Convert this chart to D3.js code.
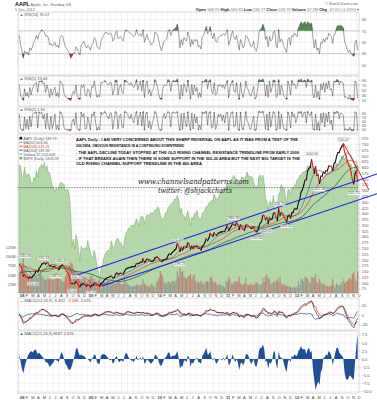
<!DOCTYPE html>
<html>
<head>
<meta charset="utf-8">
<title>AAPL daily</title>
<script src="https://cdn.jsdelivr.net/npm/d3@7/dist/d3.min.js"></script>
<style>
	body { margin: 0; background: #fff; }
	svg { display: block; font-family: "Liberation Sans", Arial, sans-serif; }
</style>
</head>
<body>
<svg id="chart" width="377" height="400"></svg>
<script>
// one value per week (Fridays), Jan 2008 - Dec 2012, rows of one quarter
var aapl = [
	180.05, 172.69, 161.36, 130.01, 133.75, 125.48, 124.63, 119.46, 125.02, 122.25, 126.61, 133.27, 143.01,
	153.08, 147.14, 161.04, 169.73, 180.94, 183.45, 187.62, 181.17, 188.75, 185.64, 172.37, 175.27, 170.09,
	170.12, 172.58, 165.15, 162.12, 156.66, 169.55, 175.74, 176.79, 169.53, 160.18, 148.94, 140.91, 128.24,
	97.07, 96.80, 97.40, 96.38, 107.59, 99.27, 90.24, 82.58, 92.67, 94.00, 98.27, 90.00, 86.00,
	90.75, 90.58, 82.33, 88.36, 90.13, 99.72, 99.16, 91.20, 89.31, 85.30, 95.93, 101.59, 106.85,
	115.99, 119.57, 123.42, 123.90, 127.24, 129.57, 122.42, 122.50, 135.81, 144.67, 136.97, 139.48, 142.44,
	140.02, 138.52, 151.75, 159.99, 163.39, 165.51, 166.78, 169.22, 170.05, 170.31, 172.16, 185.02, 182.37,
	184.90, 190.47, 188.05, 204.75, 188.50, 194.34, 204.45, 199.92, 200.59, 193.32, 194.67, 195.43, 209.04,
	210.73, 211.98, 205.93, 197.75, 192.06, 195.46, 200.38, 201.67, 204.62, 218.95, 226.60, 222.25, 230.90,
	235.97, 241.79, 247.40, 270.83, 261.09, 235.86, 253.82, 242.32, 256.88, 255.96, 253.51, 274.07, 266.70,
	246.94, 259.62, 249.90, 259.94, 257.25, 260.09, 249.10, 249.64, 241.62, 258.77, 263.41, 275.37, 292.32,
	282.52, 294.07, 314.74, 307.47, 300.98, 317.13, 308.03, 306.73, 315.00, 317.44, 320.56, 320.61, 323.30, 322.56,
	336.12, 348.48, 326.72, 336.10, 346.50, 356.85, 350.56, 348.16, 360.00, 351.99, 330.67, 351.54, 344.56,
	330.80, 327.46, 350.70, 350.13, 346.66, 340.50, 335.22, 337.41, 343.44, 325.90, 320.26, 326.35, 343.26,
	359.71, 364.92, 393.30, 390.48, 373.62, 383.58, 356.03, 383.58, 374.05, 377.48, 400.50, 404.30, 381.32,
	369.80, 422.00, 392.87, 404.95, 400.24, 384.62, 374.94, 363.57, 389.70, 393.62, 380.02, 403.43, 405.00,
	422.40, 419.81, 420.30, 447.28, 459.68, 493.42, 502.12, 522.41, 545.18, 545.17, 585.57, 596.05, 599.55,
	633.68, 605.23, 572.98, 603.00, 565.25, 566.71, 530.38, 562.29, 560.99, 580.32, 574.13, 585.74, 584.00,
	605.88, 604.97, 604.30, 585.16, 615.70, 621.70, 648.11, 663.22, 665.24, 680.44, 691.28, 700.10, 667.10,
	652.59, 629.71, 609.84, 604.00, 576.80, 547.06, 527.68, 571.50, 585.28, 538.79
];
// the 40 weeks before, only used to seed the moving averages
var aapl2007 = [92.91, 94.25, 90.24, 90.97, 99.92, 100.81, 108.74, 107.80, 114.35, 118.40, 124.49, 120.50, 123.00,
	122.04, 132.30, 137.73, 143.75, 143.85, 131.76, 125.00, 122.06, 135.30, 138.48, 131.77, 138.81, 144.15,
	153.47, 161.45, 167.91, 170.42, 184.70, 187.87, 165.37, 166.39, 171.54, 182.22, 194.30, 190.39, 193.91, 199.83];
// volume, millions
var volume = [
	55, 62, 75, 110, 70, 65, 52, 48, 50, 45, 48, 42, 44,
	45, 40, 55, 60, 48, 42, 38, 35, 40, 38, 42, 36, 38,
	35, 40, 55, 45, 42, 38, 34, 30, 32, 45, 52, 70, 75,
	85, 80, 70, 60, 55, 48, 50, 52, 35, 42, 40, 38, 30,
	35, 38, 45, 48, 40, 38, 30, 32, 34, 35, 30, 28, 30,
	30, 28, 34, 32, 25, 27, 28, 24, 26, 32, 28, 30, 26,
	22, 25, 38, 30, 26, 22, 20, 18, 17, 18, 20, 24, 22,
	21, 20, 24, 38, 26, 22, 20, 18, 16, 24, 22, 20, 15,
	27, 33, 42, 60, 52, 45, 30, 27, 27, 33, 30, 28, 33,
	33, 30, 38, 60, 45, 68, 57, 60, 45, 42, 38, 45, 48,
	52, 38, 48, 52, 33, 27, 30, 27, 33, 27, 24, 30, 33,
	32, 30, 42, 45, 33, 27, 30, 24, 21, 24, 22, 21, 18, 15,
	33, 30, 45, 38, 27, 24, 30, 33, 30, 33, 45, 27, 24,
	22, 27, 42, 24, 21, 22, 27, 21, 22, 25, 30, 27, 24,
	22, 25, 42, 30, 45, 52, 42, 38, 24, 27, 30, 33, 30,
	39, 30, 45, 27, 21, 24, 21, 18, 21, 18, 18, 15, 14,
	18, 15, 18, 33, 22, 38, 39, 33, 45, 42, 39, 30, 27,
	45, 42, 42, 52, 30, 27, 39, 30, 24, 27, 21, 21, 18,
	18, 18, 21, 38, 22, 15, 27, 22, 21, 22, 30, 38, 27,
	30, 33, 38, 42, 38, 52, 57, 42, 30, 57
];
// S&P 500 behind the price
var spx = [
	1411, 1401, 1325, 1330, 1395, 1331, 1349, 1353, 1331, 1293, 1288, 1330, 1315,
	1370, 1332, 1390, 1397, 1413, 1388, 1425, 1375, 1400, 1361, 1360, 1317, 1278,
	1262, 1239, 1260, 1257, 1260, 1296, 1298, 1292, 1283, 1242, 1252, 1255, 1213,
	1099, 899, 940, 877, 968, 930, 873, 800, 896, 876, 879, 887, 873,
	931, 890, 850, 831, 826, 869, 827, 770, 735, 683, 756, 768, 816,
	842, 857, 869, 866, 877, 929, 883, 887, 919, 940, 946, 921, 918,
	896, 880, 940, 979, 987, 1010, 1004, 1026, 1029, 1017, 1042, 1068, 1044,
	1025, 1072, 1087, 1080, 1036, 1069, 1093, 1091, 1091, 1106, 1106, 1102, 1126,
	1115, 1145, 1136, 1092, 1074, 1066, 1075, 1109, 1105, 1138, 1150, 1160, 1167,
	1178, 1194, 1192, 1217, 1187, 1111, 1136, 1088, 1089, 1064, 1092, 1117, 1076,
	1022, 1078, 1065, 1102, 1101, 1121, 1079, 1071, 1064, 1104, 1110, 1125, 1148,
	1146, 1166, 1176, 1183, 1183, 1225, 1199, 1199, 1189, 1224, 1240, 1243, 1256, 1258,
	1271, 1293, 1283, 1276, 1310, 1329, 1343, 1320, 1321, 1304, 1279, 1314, 1332,
	1328, 1319, 1337, 1364, 1340, 1337, 1333, 1331, 1300, 1271, 1271, 1268, 1339,
	1344, 1316, 1345, 1292, 1199, 1178, 1123, 1177, 1174, 1154, 1216, 1136, 1131,
	1155, 1224, 1238, 1285, 1253, 1263, 1216, 1159, 1244, 1255, 1219, 1265, 1258,
	1278, 1289, 1315, 1316, 1345, 1342, 1361, 1366, 1370, 1370, 1404, 1397, 1408,
	1398, 1370, 1378, 1403, 1370, 1353, 1295, 1317, 1278, 1325, 1343, 1335, 1362,
	1354, 1356, 1362, 1386, 1390, 1405, 1418, 1411, 1406, 1438, 1465, 1460, 1441,
	1461, 1428, 1433, 1412, 1414, 1380, 1359, 1409, 1416, 1409
];
var rsi14 = [
	62, 45, 35, 22, 35, 30, 33, 28, 40, 36, 42, 50, 55,
	62, 55, 65, 68, 72, 70, 68, 60, 62, 58, 45, 48, 44,
	45, 50, 42, 45, 40, 58, 62, 60, 50, 42, 38, 35, 30,
	22, 25, 32, 30, 42, 38, 32, 28, 45, 48, 52, 45, 40,
	44, 42, 36, 45, 48, 58, 55, 42, 40, 38, 52, 58, 62,
	66, 68, 65, 64, 66, 65, 52, 55, 66, 70, 56, 58, 60,
	55, 52, 68, 72, 70, 68, 66, 65, 62, 60, 62, 72, 64,
	62, 65, 60, 72, 50, 58, 64, 54, 52, 45, 48, 50, 68,
	66, 62, 52, 42, 35, 45, 52, 54, 56, 70, 72, 62, 68,
	72, 74, 76, 82, 68, 40, 55, 45, 58, 55, 52, 68, 60,
	42, 55, 46, 55, 52, 55, 42, 44, 38, 60, 62, 70, 78,
	65, 70, 78, 62, 56, 66, 52, 50, 58, 60, 62, 62, 65, 62,
	66, 72, 45, 52, 62, 70, 58, 55, 62, 50, 36, 55, 48,
	40, 45, 62, 60, 55, 48, 42, 45, 52, 38, 34, 44, 66,
	72, 74, 82, 75, 55, 60, 42, 60, 52, 55, 68, 70, 45,
	40, 72, 50, 56, 52, 42, 38, 32, 55, 58, 45, 62, 60,
	66, 62, 60, 75, 80, 86, 82, 84, 86, 80, 86, 84, 82,
	84, 58, 40, 55, 36, 40, 30, 50, 48, 56, 50, 58, 55,
	66, 62, 60, 48, 62, 66, 76, 80, 78, 80, 78, 76, 52,
	45, 38, 32, 36, 30, 28, 25, 50, 54, 36
];
var rsi5 = [
	70, 30, 18, 8, 55, 25, 40, 20, 60, 30, 55, 68, 75,
	80, 40, 85, 82, 88, 75, 78, 40, 70, 50, 20, 55, 30,
	45, 62, 25, 40, 20, 85, 80, 70, 35, 22, 20, 15, 12,
	8, 30, 45, 35, 70, 28, 15, 12, 70, 60, 72, 30, 25,
	55, 45, 20, 65, 60, 85, 50, 20, 30, 22, 80, 78, 82,
	88, 80, 75, 70, 82, 78, 30, 48, 90, 88, 30, 60, 72,
	40, 35, 90, 88, 82, 75, 70, 80, 65, 60, 72, 92, 50,
	70, 85, 45, 90, 20, 70, 85, 35, 52, 25, 48, 55, 92,
	80, 60, 30, 15, 12, 55, 70, 66, 72, 92, 85, 45, 80,
	88, 85, 86, 95, 50, 15, 70, 25, 75, 60, 40, 90, 55,
	15, 72, 30, 70, 45, 60, 20, 40, 20, 85, 78, 88, 94,
	55, 85, 92, 45, 35, 80, 30, 35, 70, 65, 72, 60, 70, 55,
	75, 88, 18, 60, 78, 88, 45, 40, 80, 35, 12, 80, 40,
	20, 45, 85, 60, 50, 30, 25, 45, 65, 15, 20, 55, 92,
	90, 88, 95, 80, 25, 70, 20, 85, 40, 60, 90, 88, 20,
	25, 92, 30, 70, 50, 25, 20, 12, 85, 70, 30, 88, 70,
	75, 55, 60, 92, 85, 95, 80, 88, 90, 60, 95, 88, 80,
	90, 30, 18, 70, 20, 45, 12, 75, 50, 80, 40, 80, 55,
	85, 50, 55, 25, 85, 80, 92, 90, 70, 85, 80, 78, 20,
	25, 18, 15, 30, 12, 10, 8, 85, 80, 18
];
var rsi2 = [
	85, 10, 5, 3, 70, 12, 60, 8, 75, 20, 80, 92, 90,
	95, 15, 96, 88, 94, 60, 85, 10, 90, 30, 6, 75, 12,
	40, 85, 8, 30, 5, 97, 90, 70, 15, 6, 8, 4, 3,
	2, 45, 60, 30, 92, 12, 5, 3, 95, 70, 88, 10, 12,
	70, 40, 5, 85, 75, 96, 40, 4, 20, 6, 95, 80, 92,
	97, 85, 70, 60, 92, 88, 8, 55, 98, 90, 10, 75, 85,
	20, 15, 98, 95, 88, 70, 60, 85, 55, 40, 80, 98, 30,
	75, 94, 25, 98, 4, 85, 95, 15, 50, 8, 40, 60, 98,
	88, 55, 10, 3, 5, 70, 88, 60, 85, 97, 90, 20, 92,
	95, 90, 92, 98, 30, 3, 88, 8, 90, 50, 20, 97, 35,
	4, 90, 10, 85, 40, 70, 5, 30, 6, 96, 85, 95, 98,
	30, 92, 97, 15, 20, 94, 8, 25, 85, 70, 85, 50, 80, 40,
	90, 95, 4, 70, 92, 96, 20, 25, 94, 15, 2, 95, 20,
	5, 45, 97, 50, 40, 10, 8, 50, 75, 3, 6, 70, 98,
	96, 92, 99, 70, 8, 85, 4, 96, 20, 65, 97, 90, 4,
	8, 98, 10, 85, 40, 10, 6, 3, 96, 75, 15, 96, 70,
	85, 40, 65, 97, 88, 99, 70, 92, 95, 40, 99, 88, 75,
	96, 10, 4, 85, 5, 45, 3, 90, 40, 92, 20, 88, 45,
	95, 35, 55, 6, 96, 85, 98, 96, 60, 90, 88, 80, 4,
	10, 5, 4, 20, 3, 2, 3, 96, 92, 2
];
var macd = [
	2, -4, -10, -18, -16, -15, -12, -10, -6, -5, -3, 0, 3,
	6, 5, 8, 10, 12, 12, 11, 8, 7, 4, 0, -1, -2,
	-2, -1, -2, -3, -4, -1, 2, 3, 1, -3, -6, -9, -12,
	-16, -18, -17, -15, -10, -9, -9, -8, -5, -4, -2, -2, -2,
	-2, -2, -3, -2, -1, 1, 2, 0, -1, -2, 1, 3, 4,
	6, 7, 7, 7, 6, 6, 3, 3, 5, 6, 4, 3, 3,
	2, 1, 3, 6, 7, 7, 6, 5, 4, 3, 4, 6, 5,
	5, 5, 4, 6, 3, 3, 4, 3, 2, 0, 0, 0, 3,
	4, 4, 2, -1, -3, -3, -2, -1, 0, 4, 6, 5, 6,
	7, 8, 9, 12, 10, 4, 3, 0, 2, 1, 0, 4, 4,
	0, 1, -1, 0, 0, 1, -1, -2, -3, 1, 3, 6, 10,
	9, 10, 13, 11, 9, 10, 7, 5, 5, 5, 5, 4, 5, 3,
	4, 6, 1, 1, 3, 6, 5, 3, 4, 2, -4, -2, -2,
	-5, -5, 0, 1, 1, -1, -3, -3, -2, -5, -7, -6, 0,
	5, 8, 14, 14, 8, 7, 2, 4, 2, 3, 7, 9, 4,
	0, 8, 6, 6, 5, 1, -3, -7, -3, -1, -3, 1, 2,
	4, 5, 6, 10, 14, 18, 20, 22, 24, 22, 26, 28, 28,
	30, 22, 12, 8, 2, -2, -8, -6, -5, 0, 0, 2, 3,
	6, 6, 6, 2, 5, 8, 13, 16, 17, 18, 19, 18, 10,
	2, -6, -12, -16, -20, -24, -27, -20, -12, -7
];
var macdHist = [
	1.5, -1, -3, -4.5, -2.5, -1, 0.5, 1.5, 2, 2.5, 2, 2.5, 3,
	2.5, 1.5, 2, 1.5, 1, 0.5, 0, -1, -1, -1.5, -2.5, -2, -1.5,
	-1, 0, -0.5, -0.5, -1, 1, 2, 1.5, 0, -1.5, -2, -3, -3.5,
	-3, -2, -0.5, 1, 3, 3.5, 2, 1, 1.5, 1, 1, 0.5, 0,
	0, -0.5, -1, 0, 0.5, 1.5, 1, -1, -1.5, -1.5, 1, 1.5, 1.5,
	1.5, 1, 0.5, 0, -0.5, 0, -1.5, -1, 0.5, 1, -0.5, -1, -0.5,
	-0.5, -1, 1, 2, 1.5, 0.5, 0, -0.5, -0.5, -1, 0, 1, -0.5,
	0, 0.5, -0.5, 1, -1.5, -1, 0, -0.5, -1, -1.5, -1, -0.5, 1.5,
	1, 0.5, -1, -2, -2, -1, 0, 0.5, 1, 2, 2, 0.5, 1,
	1, 1, 1.5, 2.5, 0.5, -3, -2, -2.5, -0.5, -0.5, -1, 1, 0.5,
	-2.5, -1, -1.5, -0.5, 0, 0.5, -1, -1, -1.5, 1, 1.5, 2.5, 3.5,
	1.5, 1.5, 2.5, 0.5, -0.5, 0.5, -1, -1.5, -0.5, 0, 0, -0.5, 0.5, -0.5,
	0.5, 1.5, -2, -1.5, 0, 1.5, 0, -1, 0, -1, -3.5, -1.5, -1,
	-2, -1, 1.5, 1.5, 1, -0.5, -1.5, -1, 0, -2, -2.5, -1, 2.5,
	3.5, 3.5, 4.5, 3, -1, -0.5, -3, -1, -1.5, -0.5, 2, 2.5, -1.5,
	-3, 2.5, 0.5, 0.5, 0, -1.5, -3, -4, -1, 0, -1, 1, 0.5,
	1.5, 1, 1, 2.5, 3, 4, 3, 3, 3, 1.5, 3, 3.5, 2,
	2.5, -3, -6.5, -9.5, -8, -7, -8, -4, -3, 0.5, 0.5, 1.5, 1,
	2.5, 2, 1, -2, 0, 2, 3.5, 3.5, 2, 1.5, 1, 0.5, -4,
	-6, -6.5, -6, -5, -5.5, -6, -6.5, -1, 4, 7.5
];
// marked highs and lows
var noteDates = ["2008-01-02", "2008-03-17", "2008-05-14", "2008-07-15", "2008-08-15", "2008-10-10", "2008-11-04",
	"2009-01-20", "2010-04-23", "2010-05-07", "2011-02-17", "2011-06-20", "2011-08-09", "2011-10-18",
	"2011-11-25", "2012-04-10", "2012-05-18", "2012-09-21", "2012-11-16"];
var noteValues = [200.26, 115.44, 192.24, 146.53, 180.45, 85.00, 111.79, 78.20, 272.46, 199.25, 364.90, 310.50,
	343.51, 426.70, 363.32, 644.00, 522.18, 705.07, 505.75];
var noteKinds = ["hi", "lo", "hi", "lo", "hi", "lo", "hi", "lo", "hi", "lo", "hi", "lo", "lo", "hi", "lo", "hi", "lo", "hi", "lo"];
// drawn trendlines: [date, price] end points
var channelTop = [["2008-10-05", 126], ["2013-03-20", 571]];
var channelBottom = [["2009-03-19", 87], ["2013-03-20", 486]];
var downTrend = [["2012-09-21", 705], ["2013-02-05", 502]];
var supportLevel = 512;
var priceTicks = d3.range(75, 726, 25);
var volumeTicks = [25, 50, 75, 100, 125];
var rsiTicks = [10, 30, 50, 70, 90];
var macdTicks = [-20, 0, 20];
var histTicks = [-10, -7.5, -5, -2.5, 0, 2.5, 5, 7.5];
var legendText = ["AAPL (Daily) 538.79", "MA(50) 603.46", "MA(100) 621.21", "MA(200) 587.34", "Volume 37,152,608", "$SPX (Daily) 1409.28"];
var notes = [
	"AAPL Daily - I AM VERY CONCERNED ABOUT THIS SHARP REVERSAL ON AAPL AS IT WAS FROM A TEST OF THE",
	"200 DMA, OBVIOUS RESISTANCE IN A CONTINUING DOWNTREND",
	"- THE AAPL DECLINE TODAY STOPPED AT THE OLD RISING CHANNEL RESISTANCE TRENDLINE FROM EARLY 2009",
	"- IF THAT BREAKS AGAIN THEN THERE IS SOME SUPPORT IN THE 505-20 AREA BUT THE NEXT BIG TARGET IS THE",
	"OLD RISING CHANNEL SUPPORT TRENDLINE IN THE 460 AREA"
];

var FONT = "Liberation Sans, Arial, sans-serif";
var svg = d3.select("#chart");
var left = 18, right = 359;
var parse = d3.timeParse("%Y-%m-%d");
var x = d3.scaleTime()
	.domain([new Date(2007, 11, 28), new Date(2012, 11, 14)])
	.range([left, right]);
var weeks = d3.timeFriday.range(new Date(2008, 0, 1), new Date(2012, 11, 8));
var months = d3.timeMonth.range(new Date(2008, 0, 1), new Date(2012, 11, 2));

var yR14 = d3.scaleLinear().domain([0, 100]).range([70.7, 13.8]);
var yR5 = d3.scaleLinear().domain([0, 100]).range([102.5, 77.5]);
var yR2 = d3.scaleLinear().domain([0, 100]).range([131, 111]);
var yP = d3.scaleLinear().domain([75, 725]).range([288.7, 138.4]);
var yV = d3.scaleLinear().domain([0, 125]).range([293, 247.5]);
var yS = d3.scaleLinear().domain([600, 1604]).range([293, 134]);
var yM = d3.scaleLinear().domain([-20, 20]).range([324.5, 305.5]);
var yH = d3.scaleLinear().domain([-10, 7.5]).range([391.4, 334.7]);

function pts(vals) {
	return vals.map(function(v, i) { return {d: weeks[i], v: v}; })
		.filter(function(p) { return p.d; });
}

// grid, frame and right hand axis of one panel
function panel(top, bottom, scale, ticks, fmt) {
	var g = svg.append("g");
	g.selectAll("line.v").data(months).enter().append("line")
		.attr("x1", d => x(d)).attr("x2", d => x(d))
		.attr("y1", top).attr("y2", bottom)
		.attr("stroke", "#e6e6e6").attr("stroke-width", 0.5);
	g.selectAll("line.h").data(ticks).enter().append("line")
		.attr("x1", left).attr("x2", right)
		.attr("y1", d => scale(d)).attr("y2", d => scale(d))
		.attr("stroke", "#e6e6e6").attr("stroke-width", 0.5);
	g.append("rect")
		.attr("x", left).attr("y", top)
		.attr("width", right - left).attr("height", bottom - top)
		.attr("fill", "none").attr("stroke", "#c4c4c4").attr("stroke-width", 0.6);
	var ax = svg.append("g")
		.attr("transform", "translate(" + right + ",0)")
		.call(d3.axisRight(scale).tickValues(ticks).tickSize(1.5).tickPadding(1.2).tickFormat(fmt || (d => d)));
	ax.attr("font-size", 4).attr("font-family", FONT);
	ax.select(".domain").remove();
	ax.selectAll("line").attr("stroke", "#aaa").attr("stroke-width", 0.5);
	ax.selectAll("text").attr("fill", "#555");
}

function title(xPos, yPos, parts) {
	var t = svg.append("text").attr("x", xPos).attr("y", yPos)
		.attr("font-size", 4).attr("font-family", FONT).attr("fill", "#555");
	parts.forEach(function(p) {
		t.append("tspan").attr("fill", p[1]).text(p[0]);
	});
}

// hi / lo: levels where the fills start
function rsiPanel(vals, scale, top, bottom, name, hi, lo) {
	panel(top, bottom, scale, rsiTicks);
	var p = pts(vals);
	svg.selectAll(null).data([30, 70]).enter().append("line")
		.attr("x1", left).attr("x2", right)
		.attr("y1", d => scale(d)).attr("y2", d => scale(d))
		.attr("stroke", "#a8a8a8").attr("stroke-width", 0.5);
	svg.append("path").datum(p)
		.attr("d", d3.area().x(d => x(d.d)).y0(scale(hi)).y1(d => scale(Math.max(d.v, hi))))
		.attr("fill", "#4f8a4f");
	svg.append("path").datum(p)
		.attr("d", d3.area().x(d => x(d.d)).y0(scale(lo)).y1(d => scale(Math.min(d.v, lo))))
		.attr("fill", "#a83030");
	svg.append("path").datum(p)
		.attr("d", d3.line().x(d => x(d.d)).y(d => scale(d.v)))
		.attr("fill", "none").attr("stroke", "#444").attr("stroke-width", 0.5);
	title(left + 1.5, top + 3.6, [["\u25B2", "#3e8a3e"], [" " + name, "#555"]]);
}

function monthAxis(yBase) {
	var g = svg.append("g").attr("transform", "translate(0," + yBase + ")")
		.call(d3.axisBottom(x).tickValues(months).tickSize(0).tickPadding(0)
			.tickFormat(d => d.getMonth() == 0 ? d3.timeFormat("%y")(d) : "JFMAMJJASOND".charAt(d.getMonth())));
	g.attr("font-size", 4).attr("font-family", FONT).attr("text-anchor", "start");
	g.select(".domain").remove();
	g.selectAll("text")
		.attr("x", 0.7).attr("y", 0).attr("dy", null)
		.attr("fill", "#444")
		.attr("font-weight", d => d.getMonth() == 0 ? "bold" : null);
}

// header
svg.append("text").attr("x", 15).attr("y", 6).attr("font-size", 5.5).attr("font-weight", "bold")
	.attr("font-family", FONT).attr("fill", "#111").text("AAPL");
svg.append("text").attr("x", 30.5).attr("y", 6).attr("font-size", 4).attr("font-family", FONT)
	.attr("fill", "#666").text("Apple, Inc.  Nasdaq GS");
svg.append("text").attr("x", 15).attr("y", 10.8).attr("font-size", 3.8).attr("font-family", FONT)
	.attr("fill", "#666").text("5-Dec-2012");
svg.append("text").attr("x", 358).attr("y", 5.2).attr("font-size", 3.8).attr("font-family", FONT)
	.attr("text-anchor", "end").attr("fill", "#666").text("\u00A9 StockCharts.com");
var quote = [["Open", "568.91"], ["High", "569.35"], ["Low", "536.77"], ["Close", "538.79"], ["Volume", "37.2M"], ["Chg", "-37.05 (-6.43%)"]];
var qt = svg.append("text").attr("x", 359).attr("y", 10.8).attr("font-size", 4).attr("font-family", FONT)
	.attr("text-anchor", "end");
quote.forEach(function(q) {
	qt.append("tspan").attr("font-weight", "bold").attr("fill", "#222").text(q[0] + " ");
	qt.append("tspan").attr("fill", "#777").text(q[1] + " ");
});
qt.append("tspan").attr("fill", "#c0302c").text("\u25BE");

// RSI panels
rsiPanel(rsi14, yR14, 12, 75, "RSI(14) 35.57", 70, 30);
rsiPanel(rsi5, yR5, 76, 106, "RSI(5) 19.44", 82, 18);
rsiPanel(rsi2, yR2, 107, 133, "RSI(2) 1.96", 92, 8);

// price panel
panel(134, 293, yP, priceTicks);
var vAx = svg.append("g").attr("transform", "translate(" + left + ",0)")
	.call(d3.axisLeft(yV).tickValues(volumeTicks).tickSize(1.5).tickPadding(1).tickFormat(d => d + "M"));
vAx.attr("font-size", 4).attr("font-family", FONT);
vAx.select(".domain").remove();
vAx.selectAll("line").attr("stroke", "#aaa").attr("stroke-width", 0.5);
vAx.selectAll("text").attr("fill", "#555");

svg.append("path").datum(pts(spx))
	.attr("d", d3.area().x(d => x(d.d)).y0(yS(600)).y1(d => yS(d.v)))
	.attr("fill", "#98c98a").attr("fill-opacity", 0.72)
	.attr("stroke", "#6ea862").attr("stroke-width", 0.5);

var closes = pts(aapl);
svg.selectAll("rect.vol").data(pts(volume)).enter().append("rect")
	.attr("x", d => x(d.d) - 0.6).attr("width", 1.2)
	.attr("y", d => yV(d.v)).attr("height", d => yV(0) - yV(d.v))
	.attr("fill", (d, i) => i > 0 && aapl[i] < aapl[i - 1] ? "#d0605c" : "#8c8c8c")
	.attr("fill-opacity", 0.75);

// moving averages from the weekly closes (10, 20, 40 weeks ~ 50, 100, 200 days)
var allCloses = aapl2007.concat(aapl);
function movingAvg(n) {
	return aapl.map(function(c, i) {
		return d3.mean(allCloses.slice(i + aapl2007.length - n + 1, i + aapl2007.length + 1));
	});
}
var maColors = ["#3b6f8f", "#e0352e", "#1f4d2a"];
[10, 20, 40].forEach(function(n, k) {
	svg.append("path").datum(pts(movingAvg(n)))
		.attr("d", d3.line().curve(d3.curveMonotoneX).x(d => x(d.d)).y(d => yP(d.v)))
		.attr("fill", "none").attr("stroke", maColors[k]).attr("stroke-width", 0.7);
});

svg.selectAll("line.px").data(closes.slice(1)).enter().append("line")
	.attr("x1", (d, i) => x(closes[i].d)).attr("y1", (d, i) => yP(closes[i].v))
	.attr("x2", d => x(d.d)).attr("y2", d => yP(d.v))
	.attr("stroke", (d, i) => d.v < closes[i].v ? "#e0201e" : "#111")
	.attr("stroke-width", 1.1).attr("stroke-linecap", "round");

// support level and trendlines
svg.append("line")
	.attr("x1", left).attr("x2", right)
	.attr("y1", yP(supportLevel)).attr("y2", yP(supportLevel))
	.attr("stroke", "#111").attr("stroke-width", 0.7).attr("stroke-dasharray", "0.7,0.9");
var trend = d3.line().x(d => x(parse(d[0]))).y(d => yP(d[1]));
[channelTop, channelBottom].forEach(function(c) {
	svg.append("path").attr("d", trend(c))
		.attr("stroke", "#1c1cf0").attr("stroke-width", 1.1).attr("fill", "none");
});
svg.append("path").attr("d", trend(downTrend))
	.attr("stroke", "#e8141a").attr("stroke-width", 1).attr("fill", "none");

// high / low labels
noteDates.forEach(function(ds, i) {
	var px = x(parse(ds)), py = yP(noteValues[i]) + (noteKinds[i] == "hi" ? -2.5 : 5.2);
	var t = svg.append("text").attr("x", px).attr("y", py)
		.attr("font-size", 3.6).attr("font-family", FONT).attr("text-anchor", i == 0 ? "start" : "middle")
		.attr("fill", "#555").text(noteValues[i].toFixed(2));
	if (i == 0) t.attr("x", px + 0.5);
	var b = t.node().getBBox();
	svg.insert("rect", function() { return t.node(); })
		.attr("x", b.x - 0.5).attr("y", b.y + 0.3).attr("width", b.width + 1).attr("height", b.height - 0.4)
		.attr("fill", "#fff").attr("fill-opacity", 0.85).attr("stroke", "#bbb").attr("stroke-width", 0.3);
});

// legend
var legendColors = ["#111", maColors[0], maColors[1], maColors[2], "#777", "#6ea862"];
legendText.forEach(function(s, i) {
	var ly = 139.5 + i * 4;
	if (i == 0 || i == 5) {
		svg.append("rect").attr("x", 19.5).attr("y", ly - 2.6).attr("width", 2.6).attr("height", 2.6)
			.attr("fill", legendColors[i]);
	} else {
		svg.append("line").attr("x1", 19.3).attr("x2", 22.3).attr("y1", ly - 1.3).attr("y2", ly - 1.3)
			.attr("stroke", legendColors[i]).attr("stroke-width", 0.8);
	}
	svg.append("text").attr("x", 23.2).attr("y", ly).attr("font-size", 3.7).attr("font-family", FONT)
		.attr("fill", i == 2 ? "#d0302a" : "#55606e").text(s);
});

// chartist's comments, narrow bold face
var noteY = [141, 146.6, 153.8, 159.6, 165.4];
var noteW = [222, 108, 223, 224, 126];
notes.forEach(function(s, i) {
	svg.append("text").attr("x", 76).attr("y", noteY[i])
		.attr("font-size", 4.0).attr("font-weight", "bold")
		.attr("font-family", "Liberation Sans Narrow, Arial Narrow, sans-serif").attr("fill", "#111")
		.attr("textLength", noteW[i]).attr("lengthAdjust", "spacingAndGlyphs").text(s);
});
svg.append("text").attr("x", 138).attr("y", 184)
	.attr("font-size", 8.2).attr("font-style", "italic").attr("font-family", "DejaVu Serif, Liberation Serif, serif")
	.attr("fill", "#222").attr("textLength", 111).attr("lengthAdjust", "spacingAndGlyphs")
	.text("www.channelsandpatterns.com");
svg.append("text").attr("x", 158).attr("y", 193)
	.attr("font-size", 8.2).attr("font-style", "italic").attr("font-family", "DejaVu Serif, Liberation Serif, serif")
	.attr("fill", "#222").attr("textLength", 74).attr("lengthAdjust", "spacingAndGlyphs")
	.text("twitter: @shjackcharts");

monthAxis(297.3);

// MACD
panel(298, 330, yM, macdTicks);
var macdPts = pts(macd);
var signalPts = pts(macd.map((m, i) => m - macdHist[i]));
svg.append("path").datum(pts(macdHist))
	.attr("d", d3.line().x(d => x(d.d)).y(d => yM(d.v)))
	.attr("fill", "none").attr("stroke", "#1f4f95").attr("stroke-width", 0.7);
svg.append("path").datum(signalPts)
	.attr("d", d3.line().x(d => x(d.d)).y(d => yM(d.v)))
	.attr("fill", "none").attr("stroke", "#e0302c").attr("stroke-width", 0.7);
svg.append("path").datum(macdPts)
	.attr("d", d3.line().x(d => x(d.d)).y(d => yM(d.v)))
	.attr("fill", "none").attr("stroke", "#111").attr("stroke-width", 0.6);
title(left + 1.5, 301.6, [["\u2014", "#111"], [" MACD(12,26,9) -6.892, ", "#555"], ["-9.568", "#e0302c"], [", 2.676", "#555"]]);

// MACD histogram
panel(331, 393, yH, histTicks, d3.format(".1f"));
svg.append("path").datum(pts(macdHist))
	.attr("d", d3.area().x(d => x(d.d)).y0(yH(0)).y1(d => yH(d.v)))
	.attr("fill", "#1f4f95");
title(left + 1.5, 334.6, [["\u25B2", "#1f4f95"], [" MACD(12,26,9) HIST 2.676", "#555"]]);

monthAxis(398.6);
</script>
</body>
</html>
